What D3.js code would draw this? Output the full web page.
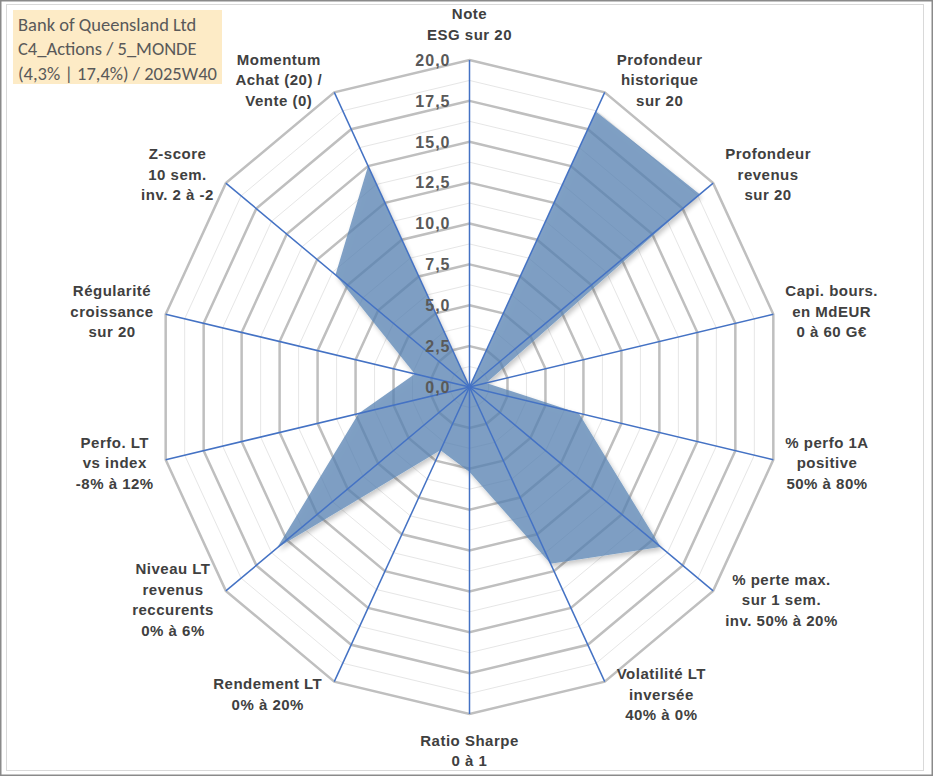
<!DOCTYPE html>
<html>
<head>
<meta charset="utf-8">
<script src="https://cdn.jsdelivr.net/npm/d3@7"></script>
<style>
  body { margin: 0; background: #fff; }
  svg { display: block; }
</style>
</head>
<body>
<div id="my_dataviz"></div>
<script>
// axis labels, clockwise from the top
const labels = [
  ["Note", "ESG sur 20"],
  ["Profondeur", "historique", "sur 20"],
  ["Profondeur", "revenus", "sur 20"],
  ["Capi. bours.", "en MdEUR", "0 à 60 G€"],
  ["% perfo 1A", "positive", "50% à 80%"],
  ["% perte max.", "sur 1 sem.", "inv. 50% à 20%"],
  ["Volatilité LT", "inversée", "40% à 0%"],
  ["Ratio Sharpe", "0 à 1"],
  ["Rendement LT", "0% à 20%"],
  ["Niveau LT", "revenus", "reccurents", "0% à 6%"],
  ["Perfo. LT", "vs index", "-8% à 12%"],
  ["Régularité", "croissance", "sur 20"],
  ["Z-score", "10 sem.", "inv. 2 à -2"],
  ["Momentum", "Achat (20) /", "Vente (0)"]
];
// scores
const values = [0, 18.7, 18.9, 1.1, 7.2, 15.7, 12.0, 5.2, 4.3, 15.8, 7.3, 3.6, 11.0, 15.0];
const ticks = [0, 2.5, 5, 7.5, 10, 12.5, 15, 17.5, 20];
const minorTicks = [1.25, 3.75, 6.25, 8.75, 11.25, 13.75, 16.25, 18.75];
const titleLines = ["Bank of Queensland Ltd", "C4_Actions / 5_MONDE", "(4,3% | 17,4%) / 2025W40"];

const width = 933, height = 776;
const cx = 469.5, cy = 387;
const squash = 0.953; // the original picture is a bit narrower than tall

const svg = d3.select("#my_dataviz")
  .append("svg")
  .attr("width", width)
  .attr("height", height);

// frame
svg.append("rect")
  .attr("x", 0.75).attr("y", 0.75)
  .attr("width", width - 1.5).attr("height", height - 1.5)
  .attr("fill", "#fff").attr("stroke", "#8a8a8a").attr("stroke-width", 1.5);
svg.append("rect")
  .attr("x", 6.5).attr("y", 4.5)
  .attr("width", 917).attr("height", 766)
  .attr("fill", "none").attr("stroke", "#d9d9d9").attr("stroke-width", 1);

// shadow only outside the shape, so the see-through fill stays light
const defs = svg.append("defs");
const filter = defs.append("filter").attr("id", "shadow")
  .attr("x", "-10%").attr("y", "-10%").attr("width", "130%").attr("height", "130%");
filter.append("feGaussianBlur").attr("in", "SourceAlpha").attr("stdDeviation", 2.5).attr("result", "blur");
filter.append("feOffset").attr("in", "blur").attr("dx", 2).attr("dy", 3).attr("result", "off");
filter.append("feComposite").attr("in", "off").attr("in2", "SourceAlpha").attr("operator", "out").attr("result", "outer");
filter.append("feComponentTransfer").attr("in", "outer").attr("result", "shade")
  .append("feFuncA").attr("type", "linear").attr("slope", 0.3);
const merge = filter.append("feMerge");
merge.append("feMergeNode").attr("in", "shade");
merge.append("feMergeNode").attr("in", "SourceGraphic");

const r = d3.scaleLinear().domain([0, 20]).range([0, 327]);
const angle = d3.scaleLinear().domain([0, labels.length]).range([0, 2 * Math.PI]);

function px(i, v) { return cx + r(v) * squash * Math.sin(angle(i)); }
function py(i, v) { return cy - r(v) * Math.cos(angle(i)); }

const idx = d3.range(labels.length);
const ring = d3.line().curve(d3.curveLinearClosed);

// minor grid
svg.append("g").selectAll("path")
  .data(minorTicks)
  .join("path")
  .attr("d", t => ring(idx.map(i => [px(i, t), py(i, t)])))
  .attr("fill", "none")
  .attr("stroke", "#e6e6e6")
  .attr("stroke-width", 1);

// major grid
svg.append("g").selectAll("path")
  .data(ticks.slice(1))
  .join("path")
  .attr("d", t => ring(idx.map(i => [px(i, t), py(i, t)])))
  .attr("fill", "none")
  .attr("stroke", "#bfbfbf")
  .attr("stroke-width", 2.5);

// the series
svg.append("path")
  .datum(values)
  .attr("d", ring(values.map((v, i) => [px(i, v), py(i, v)])))
  .attr("fill", "#5581b2")
  .attr("fill-opacity", 0.75)
  .attr("filter", "url(#shadow)");

// spokes
svg.append("g").selectAll("line")
  .data(idx)
  .join("line")
  .attr("x1", cx).attr("y1", cy)
  .attr("x2", i => px(i, 20)).attr("y2", i => py(i, 20))
  .attr("stroke", "#4472c4")
  .attr("stroke-width", 1.5);

// tick labels
svg.append("g").selectAll("text")
  .data(ticks)
  .join("text")
  .attr("x", cx - 19)
  .attr("y", t => py(0, t))
  .attr("dy", "0.36em")
  .attr("text-anchor", "end")
  .attr("font-family", "Liberation Sans, Arial, sans-serif")
  .attr("font-weight", "bold")
  .attr("font-size", 16)
  .attr("letter-spacing", 1)
  .attr("fill", "#595959")
  .text(t => d3.format(".1f")(t).replace(".", ","));

// axis labels
const lh = 20.5, gap = 12;
const lab = svg.append("g")
  .attr("font-family", "Liberation Sans, Arial, sans-serif")
  .attr("font-weight", "bold")
  .attr("font-size", 15)
  .attr("letter-spacing", 0.5)
  .attr("fill", "#404040")
  .attr("text-anchor", "middle");

labels.forEach((lines, i) => {
  const a = angle(i), s = Math.sin(a), c = Math.cos(a);
  const ex = px(i, 20), ey = py(i, 20);
  const t = lab.append("text");
  lines.forEach((l, k) => t.append("tspan").attr("x", 0).attr("y", k * lh).text(l));
  const w = d3.max(t.selectAll("tspan").nodes(), n => n.getComputedTextLength());
  const h = (lines.length - 1) * lh;
  let x, yc;
  if (Math.abs(s) < 0.05) {
    x = ex;
    yc = ey - c * (16 + h / 2 + 10);
  } else {
    x = ex + Math.sign(s) * (gap + w / 2);
    yc = ey - c * 14;
  }
  t.attr("transform", `translate(${x},${yc - h / 2 + 5.5})`);
});

// title box
svg.append("rect")
  .attr("x", 13).attr("y", 10)
  .attr("width", 209).attr("height", 74)
  .attr("fill", "#fdebc6");
svg.append("g").selectAll("text")
  .data(titleLines)
  .join("text")
  .attr("x", 18)
  .attr("y", (d, i) => 30.5 + i * 24.5)
  .attr("font-family", "Carlito, Calibri, Lato, sans-serif")
  .attr("font-size", 18.5)
  .attr("fill", "#595959")
  .text(d => d);
</script>
</body>
</html>
